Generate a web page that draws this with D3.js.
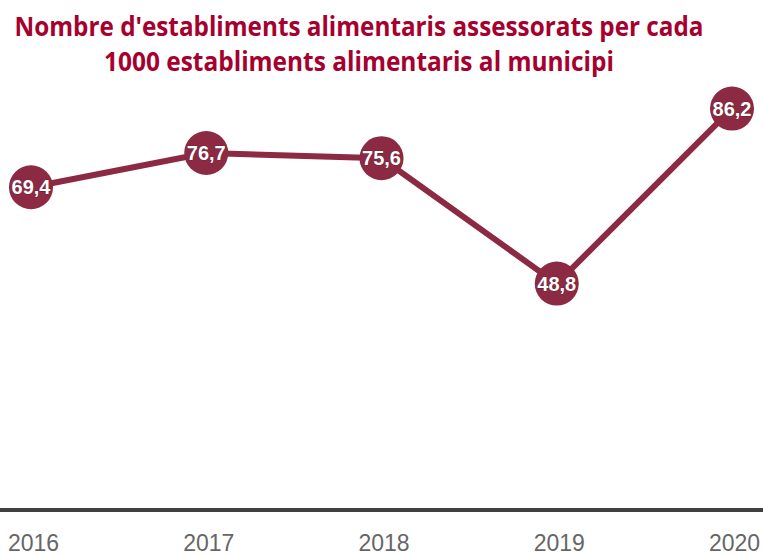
<!DOCTYPE html>
<meta charset="utf-8">
<script src="https://d3js.org/d3.v7.min.js"></script>
<style>
  body { margin: 0; background: #fff; }
</style>
<div id="chart"></div>
<script>
    // data
    var years = ["2016", "2017", "2018", "2019", "2020"];
    var values = [69.4, 76.7, 75.6, 48.8, 86.2];
    var labels = ["69,4", "76,7", "75,6", "48,8", "86,2"];
    var titleLines = ["Nombre d'establiments alimentaris assessorats per cada",
                      "1000 establiments alimentaris al municipi"];

    var width = 763, height = 556;
    var lineColor = "#8b2a42";

    var svg = d3.select("#chart")
      .append("svg")
        .attr("width", width)
        .attr("height", height);

    // title
    svg.selectAll("text.title")
      .data(titleLines)
      .enter()
      .append("text")
        .attr("class", "title")
        .attr("x", 359)
        .attr("y", function(d, i) { return 36 + i * 35; })
        .attr("text-anchor", "middle")
        .attr("font-family", "'Liberation Sans Narrow', 'Open Sans', sans-serif")
        .attr("font-weight", "bold")
        .attr("font-size", "26px")
        .attr("fill", "#a6002e")
        .attr("textLength", function(d, i) { return i == 0 ? 689 : 510; })
        .attr("lengthAdjust", "spacingAndGlyphs")
        .text(function(d) { return d; });

    // scales
    var x = d3.scalePoint()
      .domain(years)
      .range([31, 732]);

    var y = d3.scaleLinear()
      .domain([0, 100])
      .range([512, 44]);

    // x axis
    var xAxis = svg.append("g")
      .attr("transform", "translate(0,510)")
      .call(d3.axisBottom(x).tickSize(0).tickPadding(25));
    xAxis.select(".domain").remove();
    xAxis.selectAll("text")
      .attr("font-family", "'Liberation Sans', Arial, sans-serif")
      .attr("font-size", "23px")
      .attr("fill", "#666")
      .attr("dx", 2);
    svg.append("line")
      .attr("x1", 0)
      .attr("x2", width)
      .attr("y1", 510)
      .attr("y2", 510)
      .attr("stroke", "#404040")
      .attr("stroke-width", 4);

    var data = years.map(function(d, i) { return {year: d, value: values[i], label: labels[i]}; });

    // line
    svg.append("path")
      .datum(data)
      .attr("fill", "none")
      .attr("stroke", lineColor)
      .attr("stroke-width", 6)
      .attr("d", d3.line()
        .x(function(d) { return x(d.year); })
        .y(function(d) { return y(d.value); }));

    // points
    svg.selectAll("circle.pt")
      .data(data)
      .enter()
      .append("circle")
        .attr("class", "pt")
        .attr("cx", function(d) { return x(d.year); })
        .attr("cy", function(d) { return y(d.value); })
        .attr("r", 22)
        .attr("fill", lineColor);

    // labels
    svg.selectAll("text.lbl")
      .data(data)
      .enter()
      .append("text")
        .attr("class", "lbl")
        .attr("x", function(d) { return x(d.year); })
        .attr("y", function(d) { return y(d.value) + 7; })
        .attr("text-anchor", "middle")
        .attr("font-family", "'Liberation Sans', Arial, sans-serif")
        .attr("font-weight", "bold")
        .attr("font-size", "20px")
        .attr("fill", "#fff")
        .attr("stroke", "#5a1a2a")
        .attr("stroke-width", 0.6)
        .attr("paint-order", "stroke")
        .text(function(d) { return d.label; });
</script>
